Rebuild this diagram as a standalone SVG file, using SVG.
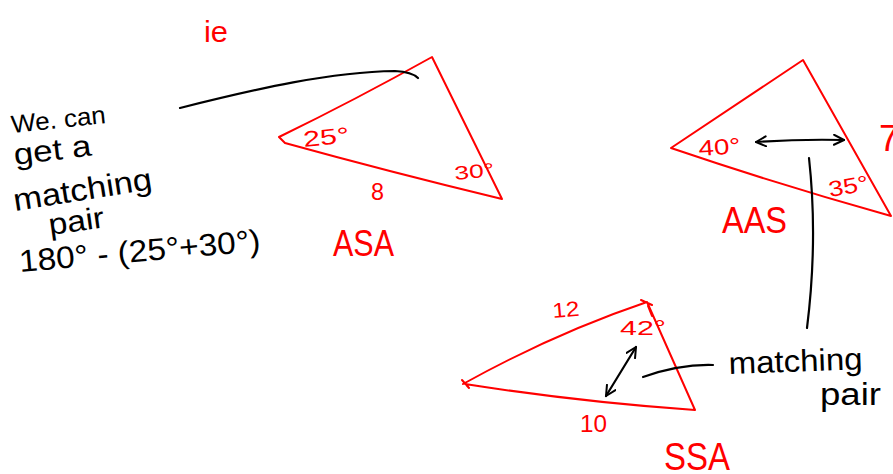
<svg xmlns="http://www.w3.org/2000/svg" width="893" height="474" viewBox="0 0 893 474">
<defs>
<style>
.r{fill:none;stroke:#ff0000;stroke-width:2;stroke-linejoin:round;stroke-linecap:round}
.k{fill:none;stroke:#000;stroke-width:2.2;stroke-linecap:round;stroke-linejoin:round}
.tr{fill:#ff0000;font-family:"Liberation Sans","DejaVu Sans",sans-serif}
.tk{fill:#000;font-family:"Liberation Sans","DejaVu Sans",sans-serif}
</style>
<marker id="hd" viewBox="0 0 12 12" refX="11" refY="6" markerWidth="12" markerHeight="12" markerUnits="userSpaceOnUse" orient="auto-start-reverse">
<path d="M1,1 L11,6 L1,11" fill="none" stroke="#000" stroke-width="2" stroke-linecap="round" stroke-linejoin="round"/>
</marker>
</defs>
<rect width="893" height="474" fill="#fff"/>

<g id="note-left">
<text class="tk" x="12" y="133" font-size="25" textLength="95" lengthAdjust="spacingAndGlyphs" transform="rotate(-6 12 133)">We. can</text>
<text class="tk" x="15" y="165" font-size="30" textLength="78" lengthAdjust="spacingAndGlyphs" transform="rotate(-7 15 165)">get a</text>
<text class="tk" x="15" y="211" font-size="31" textLength="140" lengthAdjust="spacingAndGlyphs" transform="rotate(-9 15 211)">matching</text>
<text class="tk" x="50" y="235" font-size="30" textLength="56" lengthAdjust="spacingAndGlyphs" transform="rotate(-8 50 235)">pair</text>
<text class="tk" x="20" y="272" font-size="31" textLength="242" lengthAdjust="spacingAndGlyphs" transform="rotate(-5 20 272)">180° - (25°+30°)</text>
</g>

<g id="ie"><text class="tr" x="204" y="42" font-size="30" textLength="24" lengthAdjust="spacingAndGlyphs">ie</text></g>

<g id="triangle-asa">
<path class="r" d="M279,137 Q355,100 432,57 L502,199 Q390,172 285,143 L279,137"/>
<text class="tr" x="304" y="147" font-size="22" textLength="46" lengthAdjust="spacingAndGlyphs" transform="rotate(-6 304 147)">25°</text>
<text class="tr" x="455" y="180" font-size="19" textLength="40" lengthAdjust="spacingAndGlyphs" transform="rotate(-6 455 180)">30°</text>
<text class="tr" x="371" y="200" font-size="24" textLength="13" lengthAdjust="spacingAndGlyphs">8</text>
<text class="tr" x="333" y="256" font-size="36" textLength="61" lengthAdjust="spacingAndGlyphs">ASA</text>
</g>

<g id="triangle-aas">
<path class="r" d="M671,148 L803,60 L891,216 Q780,185 671,148"/>
<text class="tr" x="699" y="156" font-size="22" textLength="42" lengthAdjust="spacingAndGlyphs" transform="rotate(-4 699 156)">40°</text>
<text class="tr" x="830" y="197" font-size="22" textLength="40" lengthAdjust="spacingAndGlyphs" transform="rotate(-10 830 197)">35°</text>
<text class="tr" x="722" y="233" font-size="36" textLength="65" lengthAdjust="spacingAndGlyphs">AAS</text>
<text class="tr" x="879" y="151" font-size="36" textLength="20" lengthAdjust="spacingAndGlyphs">7</text>
</g>

<g id="triangle-ssa">
<path class="r" d="M463,384 Q555,333 647,302 L695,410 Q580,402 465,384 M462,380 L469,388 M641,300 L652,305 M648,306 L652,316"/>
<text class="tr" x="553" y="318" font-size="21" textLength="27" lengthAdjust="spacingAndGlyphs" transform="rotate(-5 553 318)">12</text>
<text class="tr" x="620" y="335" font-size="21" textLength="46" lengthAdjust="spacingAndGlyphs">42°</text>
<text class="tr" x="580" y="432" font-size="24" textLength="27" lengthAdjust="spacingAndGlyphs">10</text>
<text class="tr" x="664" y="470" font-size="38" textLength="66" lengthAdjust="spacingAndGlyphs">SSA</text>
</g>

<g id="note-right">
<text class="tk" x="729" y="374" font-size="31" textLength="134" lengthAdjust="spacingAndGlyphs" transform="rotate(-2 729 374)">matching</text>
<text class="tk" x="820" y="405" font-size="31" textLength="61" lengthAdjust="spacingAndGlyphs">pair</text>
</g>

<g id="connectors">
<path class="k" d="M180,108 C260,88 330,72 395,71 Q412,72 418,78"/>
<path class="k" d="M756,142 Q800,139 844,140" marker-start="url(#hd)" marker-end="url(#hd)"/>
<path class="k" d="M809,158 Q818,240 807,328"/>
<path class="k" d="M606,396 L636,347" marker-start="url(#hd)" marker-end="url(#hd)"/>
<path class="k" d="M643,377 Q680,364 713,365"/>
</g>
</svg>
